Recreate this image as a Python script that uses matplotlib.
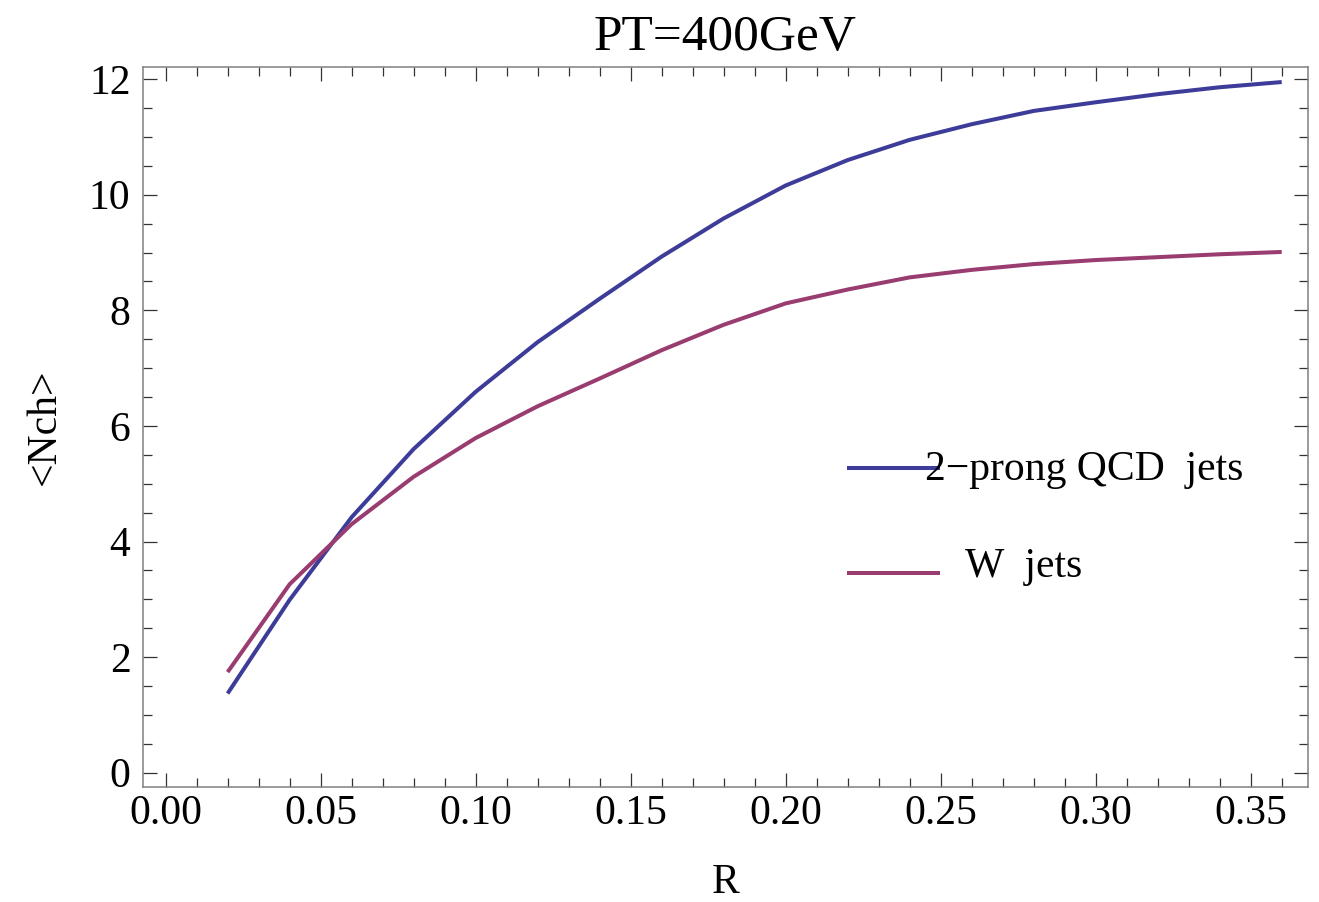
import matplotlib
matplotlib.use("Agg")
import matplotlib.pyplot as plt
from matplotlib.ticker import MultipleLocator, FormatStrFormatter

# Mean charged multiplicity vs. cone radius R at PT = 400 GeV
r_values = [0.02, 0.04, 0.06, 0.08, 0.10, 0.12, 0.14, 0.16, 0.18,
            0.20, 0.22, 0.24, 0.26, 0.28, 0.30, 0.32, 0.34, 0.36]
nch_qcd = [1.37, 2.99, 4.42, 5.60, 6.59, 7.45, 8.20, 8.93, 9.59,
           10.16, 10.60, 10.95, 11.22, 11.45, 11.60, 11.74, 11.86, 11.95]
nch_w = [1.74, 3.26, 4.30, 5.12, 5.79, 6.34, 6.82, 7.31, 7.75,
         8.12, 8.36, 8.57, 8.70, 8.80, 8.87, 8.92, 8.97, 9.01]

series_labels = ["2\u2212prong QCD  jets", "W  jets"]
title_text = "PT=400GeV"
x_label = "R"
y_label = "<Nch>"

blue = "#3D3D99"
purple = "#993D71"

plt.rcParams["font.family"] = ["Liberation Serif", "DejaVu Serif"]
plt.rcParams["mathtext.default"] = "regular"

fig = plt.figure(figsize=(13.19, 9.02), dpi=100)
ax = fig.add_axes([0.1084, 0.1280, 0.9917 - 0.1084, 0.9257 - 0.1280])

ax.plot(r_values, nch_qcd, color=blue, lw=2.9, solid_capstyle="butt")
ax.plot(r_values, nch_w, color=purple, lw=2.9, solid_capstyle="butt")

ax.set_xlim(-0.0073, 0.3685)
ax.set_ylim(-0.24, 12.21)

ax.xaxis.set_major_locator(MultipleLocator(0.05))
ax.xaxis.set_minor_locator(MultipleLocator(0.01))
ax.xaxis.set_major_formatter(FormatStrFormatter("%.2f"))
ax.yaxis.set_major_locator(MultipleLocator(2))
ax.yaxis.set_minor_locator(MultipleLocator(0.5))

ax.tick_params(which="both", direction="in", top=True, right=True,
               color="#333333", width=0.9)
ax.tick_params(which="major", length=10, labelsize=30, pad=6)
ax.tick_params(which="minor", length=6.5)
ax.tick_params(axis="y", which="major", pad=9)

for sp in ax.spines.values():
    sp.set_color("#808080")
    sp.set_linewidth(1.1)

ax.set_title(title_text, fontsize=37, pad=12)
ax.set_xlabel(x_label, fontsize=30, labelpad=22)
ax.set_ylabel(y_label, fontsize=30, labelpad=18)

# Legend: sample lines with labels placed beside them
ax.plot([0.6043, 0.6841], [0.4427, 0.4427], color=blue, lw=2.9,
        transform=ax.transAxes, solid_capstyle="butt")
ax.plot([0.6043, 0.6841], [0.2967, 0.2967], color=purple, lw=2.9,
        transform=ax.transAxes, solid_capstyle="butt")
ax.text(0.6712, 0.426, series_labels[0], fontsize=30, ha="left",
        va="baseline", transform=ax.transAxes)
ax.text(0.7056, 0.2913, series_labels[1], fontsize=30, ha="left",
        va="baseline", transform=ax.transAxes)

fig.savefig("out.png", dpi=100)
